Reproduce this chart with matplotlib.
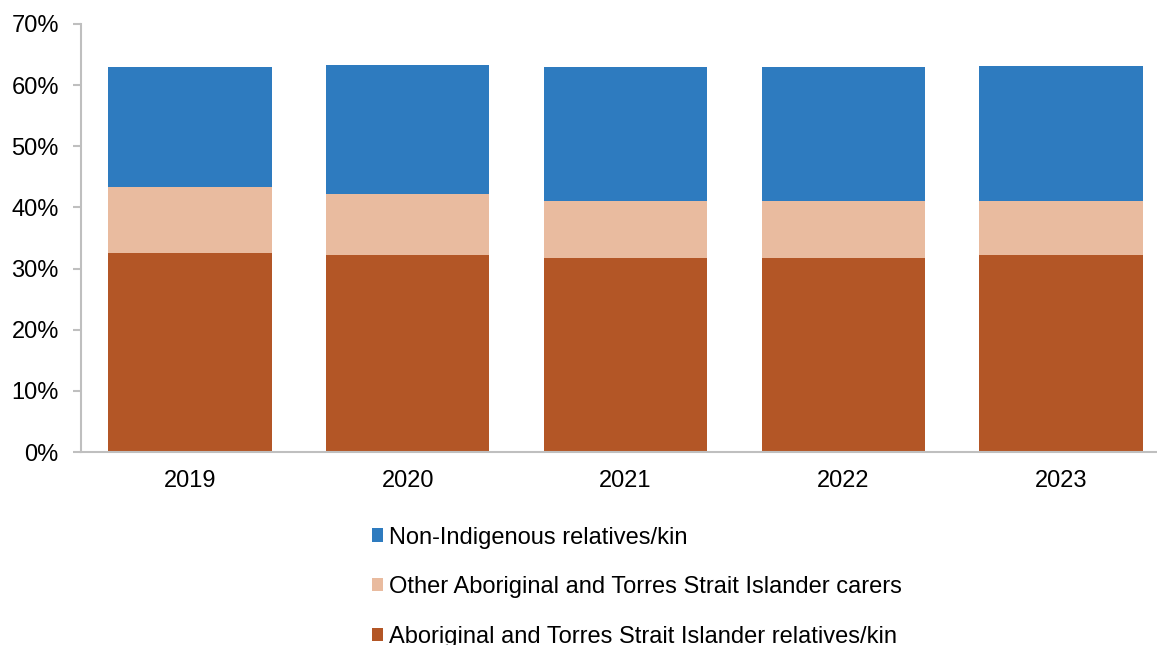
import matplotlib
matplotlib.use("Agg")
from matplotlib import pyplot as plt
from matplotlib.ticker import PercentFormatter
import numpy as np

years = ["2019", "2020", "2021", "2022", "2023"]
atsi_kin = [32.5, 32.2, 31.7, 31.8, 32.2]
other_atsi = [10.9, 10.0, 9.4, 9.2, 8.9]
non_indigenous = [19.6, 21.1, 21.9, 21.9, 22.0]

labels = ["Aboriginal and Torres Strait Islander relatives/kin",
          "Other Aboriginal and Torres Strait Islander carers",
          "Non-Indigenous relatives/kin"]
colours = ["#B35626", "#E9BB9F", "#2E7BBF"]

plt.rcParams['font.family'] = ['Liberation Sans', 'DejaVu Sans']

fig = plt.figure(figsize=(11.57, 6.45), dpi=100)
ax = fig.add_axes([0.070, 0.2992, 0.9412, 0.6636])

x = np.arange(len(years))
bottom = np.zeros(len(years))
bars = []
for vals, lab, col in zip([atsi_kin, other_atsi, non_indigenous], labels, colours):
	b = ax.bar(x, vals, bottom=bottom, width=0.75, color=col, label=lab)
	bars.append(b)
	bottom += np.array(vals)

ax.set_xlim(-0.5, len(years) - 0.5)
ax.set_ylim(0, 70)
ax.set_yticks(np.arange(0, 71, 10))
ax.yaxis.set_major_formatter(PercentFormatter(decimals=0))
ax.set_xticks(x)
ax.set_xticklabels(years)

for s in ["top", "right"]:
	ax.spines[s].set_visible(False)
for s in ["left", "bottom"]:
	ax.spines[s].set_color("#BFBFBF")
	ax.spines[s].set_linewidth(1.5)
ax.tick_params(axis="y", length=6, width=1.5, color="#BFBFBF", labelsize=17, pad=10)
ax.tick_params(axis="x", length=0, labelsize=17, pad=13)

# legend lists the top segment first
fig.legend(bars[::-1], labels[::-1], loc="upper left", bbox_to_anchor=(0.311, 0.202),
	frameon=False, fontsize=17, handlelength=0.5, handleheight=0.5,
	handletextpad=0.22, labelspacing=1.17, borderpad=0)

plt.savefig("out.png", dpi=100)
